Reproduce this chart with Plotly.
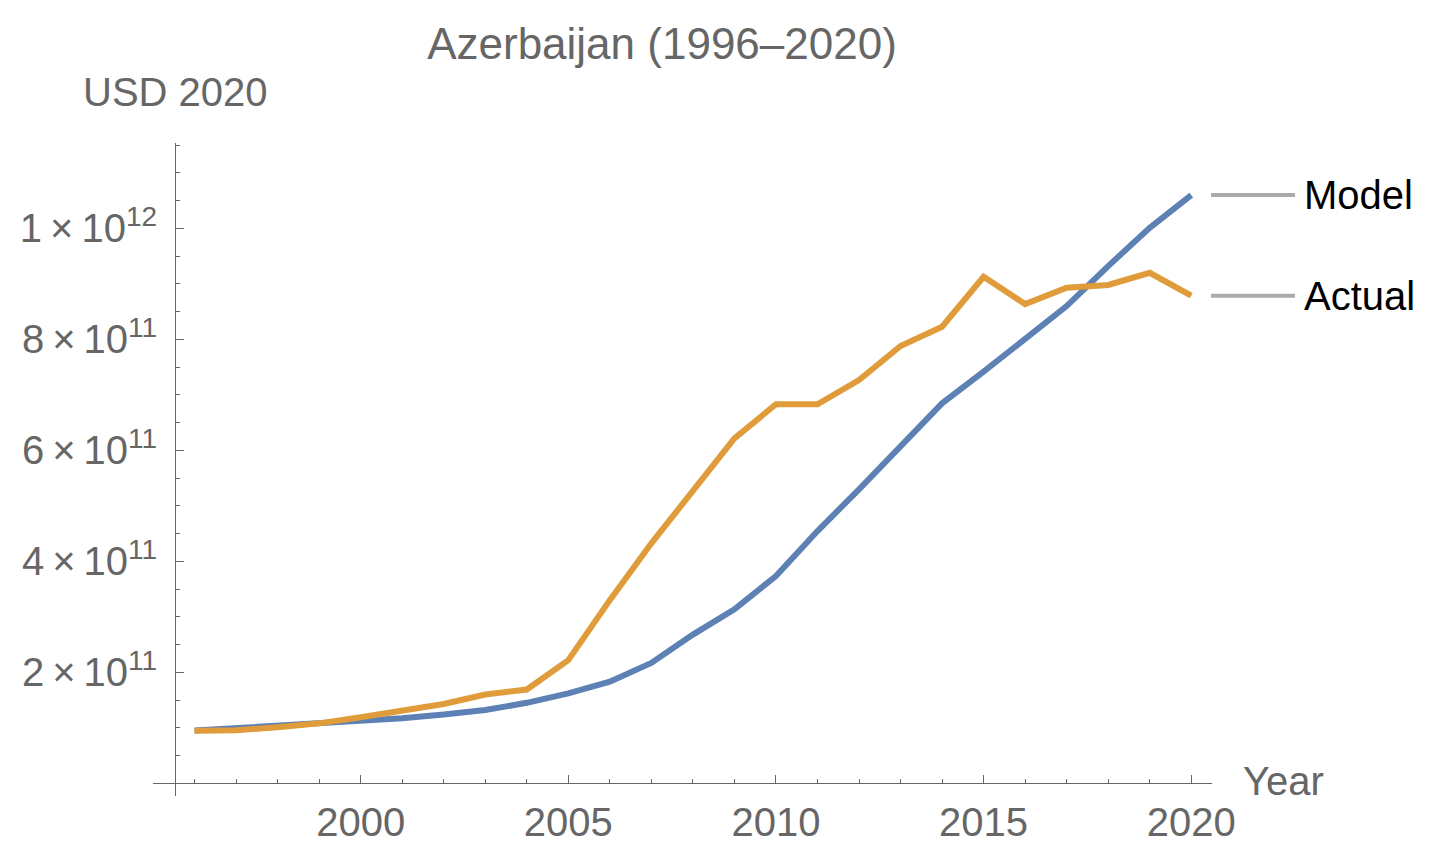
import plotly.graph_objects as go

years = list(range(1996, 2021))
model = [0.095e12, 0.099e12, 0.103e12, 0.108e12, 0.112e12, 0.117e12, 0.124e12, 0.132e12, 0.145e12,
         0.162e12, 0.183e12, 0.217e12, 0.268e12, 0.3135e12, 0.3735e12, 0.4546e12, 0.5297e12,
         0.6065e12, 0.6847e12, 0.7417e12, 0.800e12, 0.860e12, 0.932e12, 1.001e12, 1.060e12]
actual = [0.0948e12, 0.0954e12, 0.101e12, 0.108e12, 0.119e12, 0.131e12, 0.143e12, 0.160e12, 0.169e12,
          0.222e12, 0.330e12, 0.4324e12, 0.5285e12, 0.6216e12, 0.683e12, 0.683e12, 0.7267e12,
          0.788e12, 0.8227e12, 0.9128e12, 0.8636e12, 0.893e12, 0.898e12, 0.920e12, 0.8786e12]
series_names = ["Model", "Actual"]
x_tickvals = [1995, 2000, 2005, 2010, 2015, 2020]
x_ticktext = ["", "2000", "2005", "2010", "2015", "2020"]
y_tickvals = [2e11, 4e11, 6e11, 8e11, 1e12]
y_ticktext = ["2\u2009×\u200910<sup>11</sup>", "4\u2009×\u200910<sup>11</sup>",
              "6\u2009×\u200910<sup>11</sup>", "8\u2009×\u200910<sup>11</sup>",
              "1\u2009×\u200910<sup>12</sup>"]

BLUE = "#5E81B5"
ORANGE = "#E09C3A"
GRAY = "#666666"
FONT = "Liberation Sans, Arial, sans-serif"

W, H = 1436, 858
OFF = 8  # page body margin offset
# target plot area in page pixels: x 153..1212, y 143..796
PX0, PX1, PY0, PY1 = 153, 1212, 143, 796
ml, mt = PX0 - OFF, PY0 - OFF
pw, ph = PX1 - PX0, PY1 - PY0
mr, mb = W - ml - pw, H - mt - ph


def px(xp):
    return (xp - PX0) / pw


def py(yp):
    return (PY1 - yp) / ph


fig = go.Figure()
fig.add_trace(go.Scatter(x=years, y=model, mode="lines", name=series_names[0],
                         line=dict(color=BLUE, width=6)))
fig.add_trace(go.Scatter(x=years, y=actual, mode="lines", name=series_names[1],
                         line=dict(color=ORANGE, width=6)))

fig.update_layout(
    width=W, height=H,
    margin=dict(l=ml, r=mr, t=mt, b=mb, pad=0),
    paper_bgcolor="white", plot_bgcolor="white",
    showlegend=False,
    font=dict(family=FONT, color=GRAY, size=40),
    title=dict(text="Azerbaijan (1996–2020)", x=(662 - OFF) / W, xanchor="center",
               y=1 - (44 - OFF) / H, yanchor="middle", yref="container",
               font=dict(size=44, color=GRAY, family=FONT)),
    xaxis=dict(range=[1995, 2020.5], showgrid=False, zeroline=False,
               showline=True, linecolor=GRAY, linewidth=1.3,
               anchor="free", position=py(783.3),
               tickmode="array", tickvals=x_tickvals, ticktext=x_ticktext,
               ticks="inside", ticklen=8, tickwidth=1.3, tickcolor=GRAY,
               tickfont=dict(size=40, color=GRAY, family=FONT),
               ticklabelstandoff=4,
               minor=dict(tickmode="linear", tick0=1995, dtick=1, ticks="inside",
                          ticklen=4, tickwidth=1, tickcolor=GRAY, showgrid=False)),
    yaxis=dict(range=[-2.29e10, 1.1538e12], showgrid=False, zeroline=False,
               showline=True, linecolor=GRAY, linewidth=1.3,
               anchor="free", position=px(175.3),
               tickmode="array", tickvals=y_tickvals, ticktext=y_ticktext,
               ticks="inside", ticklen=8, tickwidth=1.3, tickcolor=GRAY,
               tickfont=dict(size=40, color=GRAY, family=FONT),
               ticklabelstandoff=10,
               minor=dict(tickmode="linear", tick0=0, dtick=5e10, ticks="inside",
                          ticklen=4, tickwidth=1, tickcolor=GRAY, showgrid=False)),
)

# axis labels
fig.add_annotation(text="USD 2020", xref="paper", yref="paper",
                   x=px(175.3), y=py(92), xanchor="center", yanchor="middle",
                   showarrow=False, font=dict(size=40, color=GRAY, family=FONT))
fig.add_annotation(text="Year", xref="paper", yref="paper",
                   x=px(1241), y=py(781), xanchor="left", yanchor="middle",
                   showarrow=False, font=dict(size=40, color=GRAY, family=FONT))

# end-of-line legend
for name, vals in zip(series_names, [model, actual]):
    fig.add_shape(type="line", xref="paper", yref="y",
                  x0=px(1211), x1=px(1295), y0=vals[-1], y1=vals[-1],
                  line=dict(color="#AAAAAA", width=4))
    fig.add_annotation(text=name, xref="paper", yref="y",
                       x=px(1302), y=vals[-1], xanchor="left", yanchor="middle",
                       showarrow=False, font=dict(size=40, color="black", family=FONT))

fig.write_html("out.html")
